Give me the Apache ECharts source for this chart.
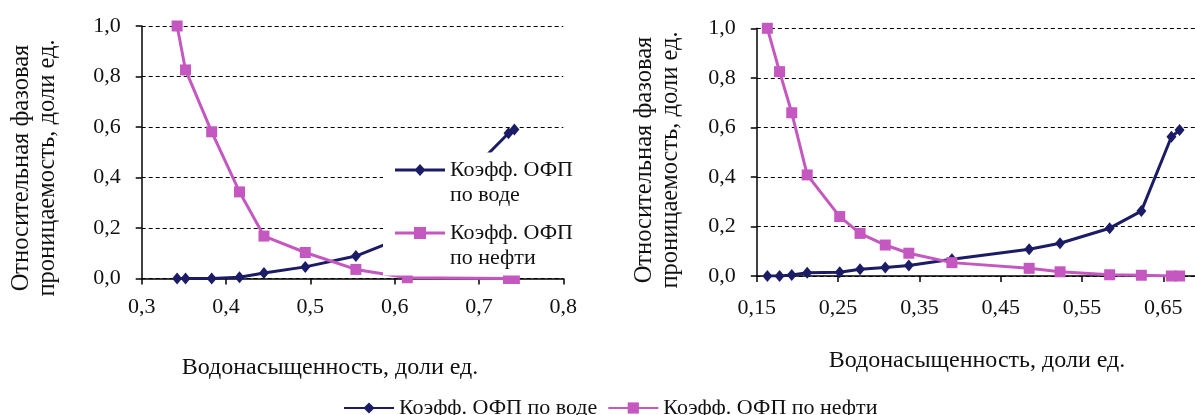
<!DOCTYPE html>
<html>
<head>
<meta charset="utf-8">
<script src="https://cdn.jsdelivr.net/npm/echarts@6/dist/echarts.min.js"></script>
<style>
html,body{margin:0;padding:0;background:#fff;}
#c{width:1195px;height:415px;}
</style>
</head>
<body>
<div id="c"></div>
<script>
// ---- data ----
const NAME_W = 'Коэфф. ОФП по воде';
const NAME_O = 'Коэфф. ОФП по нефти';
const X_TITLE = 'Водонасыщенность, доли ед.';
const Y_TITLE = 'Относительная фазовая\nпроницаемость, доли ед.';

const leftSw    = [0.342, 0.352, 0.383, 0.416, 0.445, 0.494, 0.554, 0.615, 0.735, 0.742];
const leftWater = [0.0,   0.0,   0.0,   0.005, 0.022, 0.046, 0.089, 0.17,  0.575, 0.59];
const leftOil   = [1.0,   0.826, 0.581, 0.343, 0.168, 0.103, 0.036, 0.003, 0.0,   0.0];

const rightSw    = [0.163, 0.178, 0.193, 0.212, 0.252, 0.277, 0.308, 0.337, 0.39,  0.485, 0.523, 0.584, 0.623, 0.66,  0.67];
const rightWater = [0.0,   0.0,   0.004, 0.013, 0.015, 0.027, 0.034, 0.042, 0.068, 0.108, 0.132, 0.193, 0.262, 0.562, 0.589];
const rightOil   = [1.0,   0.825, 0.659, 0.408, 0.24,  0.172, 0.125, 0.092, 0.054, 0.031, 0.017, 0.005, 0.003, 0.0,   0.0];

// ---- style ----
const FONT = 'Liberation Serif';
const C_W = '#1c1c66';
const C_O = '#c558c0';
const pair = (xs, ys) => xs.map((x, i) => [x, ys[i]]);
const comma = d => v => v.toFixed(d).replace('.', ',');

// legend icons for the in-plot legend: line + marker placed at the first text line
const ICON_W = 'path://M0 0L0.01 0L0 0.01Z M0 11L50 11L50 14L0 14Z M25 6.5L30.5 12.5L25 18.5L19.5 12.5Z M0 50L0.01 50L0 49.99Z';
const ICON_O = 'path://M0 0L0.01 0L0 0.01Z M0 11L50 11L50 14L0 14Z M19 6.5L31 6.5L31 18.5L19 18.5Z M0 50L0.01 50L0 49.99Z';

const xAxisBase = (gi, min, max, dec, margin) => ({
  type: 'value', gridIndex: gi, min: min, max: max, interval: 0.1,
  axisLine: { show: true, lineStyle: { color: '#000', width: 1.5 } },
  axisTick: { show: true, length: 6, lineStyle: { color: '#000', width: 1.5 } },
  axisLabel: { formatter: comma(dec), fontFamily: FONT, fontSize: 22, color: '#111', margin: margin },
  splitLine: { show: false }
});
const yAxisBase = (gi) => ({
  type: 'value', gridIndex: gi, min: 0, max: 1, interval: 0.2,
  axisLine: { show: true, lineStyle: { color: '#000', width: 1.5 } },
  axisTick: { show: true, length: 6, lineStyle: { color: '#000', width: 1.5 } },
  axisLabel: { formatter: comma(1), fontFamily: FONT, fontSize: 22, color: '#111', margin: 21 },
  splitLine: { show: true, lineStyle: { color: '#000', width: 1, type: [4, 3] } }
});
const waterSeries = (gi, data) => ({
  name: NAME_W, type: 'line', xAxisIndex: gi, yAxisIndex: gi, data: data,
  symbol: 'diamond', symbolSize: [10, 12], showAllSymbol: true,
  lineStyle: { color: C_W, width: 3 }, itemStyle: { color: C_W },
  animation: false
});
const oilSeries = (gi, data) => ({
  name: NAME_O, type: 'line', xAxisIndex: gi, yAxisIndex: gi, data: data,
  symbol: 'rect', symbolSize: 11, showAllSymbol: true,
  lineStyle: { color: C_O, width: 3 }, itemStyle: { color: C_O },
  animation: false
});

const chart = echarts.init(document.getElementById('c'), null, { renderer: 'canvas' });
chart.setOption({
  backgroundColor: '#fff',
  animation: false,
  grid: [
    { left: 141.7, top: 26, width: 421.6, height: 252.5, containLabel: false, outerBoundsMode: 'none' },
    { left: 756.8, top: 28.3, width: 487.8, height: 247.7, containLabel: false, outerBoundsMode: 'none' }
  ],
  xAxis: [ xAxisBase(0, 0.3, 0.8, 1, 18), xAxisBase(1, 0.15, 0.75, 2, 21) ],
  yAxis: [ yAxisBase(0), yAxisBase(1) ],
  legend: [
    {
      left: 343, top: 397, padding: [0, 0, 0, 0],
      itemWidth: 50, itemHeight: 14, itemGap: 10,
      data: [NAME_W, NAME_O], selectedMode: false,
      textStyle: { fontFamily: FONT, fontSize: 22, color: '#111' }
    },
    {
      orient: 'vertical', left: 383, top: 152.5,
      padding: [5, 25, 5, 12], backgroundColor: '#fff',
      itemWidth: 50, itemHeight: 50, itemGap: 13,
      data: [{ name: NAME_W, icon: ICON_W }, { name: NAME_O, icon: ICON_O }],
      selectedMode: false,
      formatter: n => n.replace(' по ', '\nпо '),
      textStyle: { fontFamily: FONT, fontSize: 22, color: '#111', lineHeight: 25 }
    }
  ],
  graphic: [
    { type: 'text', x: 330, y: 368, style: { text: X_TITLE, font: '24px "Liberation Serif"', fill: '#111', align: 'center', verticalAlign: 'middle' } },
    { type: 'text', x: 977, y: 361, style: { text: X_TITLE, font: '24px "Liberation Serif"', fill: '#111', align: 'center', verticalAlign: 'middle' } },
    { type: 'text', x: 35, y: 168, rotation: Math.PI / 2, style: { text: Y_TITLE, font: '24.5px "Liberation Serif"', lineHeight: 26, fill: '#111', align: 'center', verticalAlign: 'middle' } },
    { type: 'text', x: 658, y: 160, rotation: Math.PI / 2, style: { text: Y_TITLE, font: '24.5px "Liberation Serif"', lineHeight: 26, fill: '#111', align: 'center', verticalAlign: 'middle' } }
  ],
  series: [
    waterSeries(0, pair(leftSw, leftWater)),
    oilSeries(0, pair(leftSw, leftOil)),
    waterSeries(1, pair(rightSw, rightWater)),
    oilSeries(1, pair(rightSw, rightOil))
  ]
});
</script>
</body>
</html>
